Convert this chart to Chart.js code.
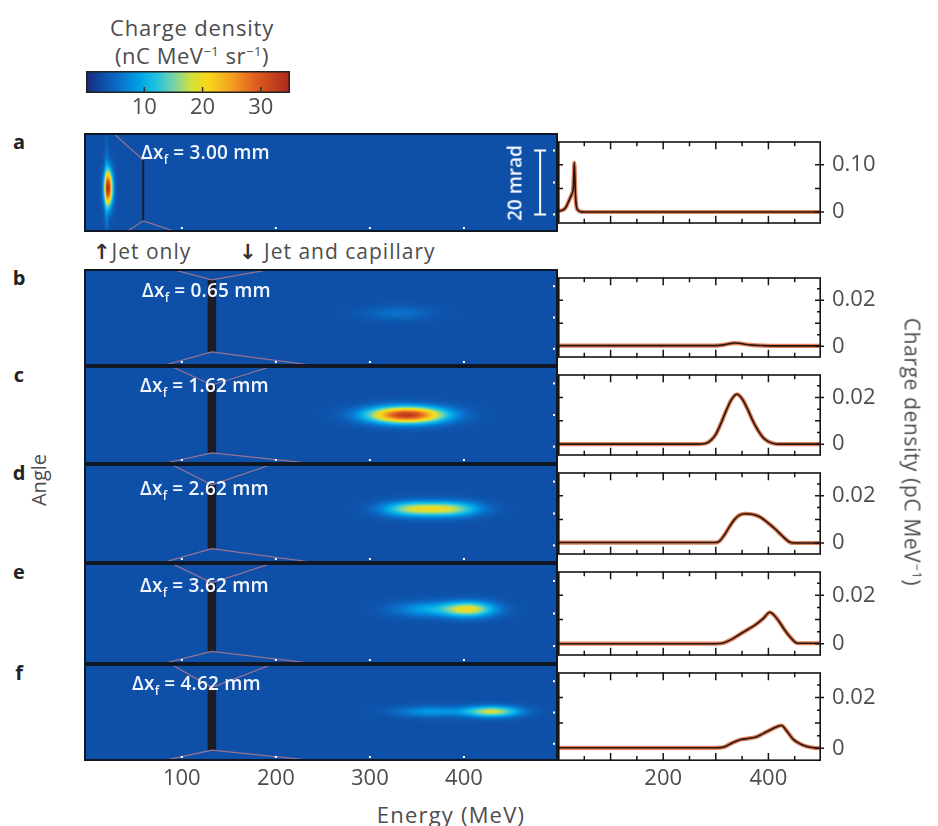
<!DOCTYPE html>
<html>
<head>
<meta charset="utf-8">
<script src="https://cdn.jsdelivr.net/npm/chart.js@4.4.1/dist/chart.umd.min.js"></script>
<style>
html,body{margin:0;padding:0;background:#fff;}
#fig{position:relative;width:938px;height:826px;overflow:hidden;font-family:"Open Sans",sans-serif;color:#4d4d4d;}
#fig canvas{position:absolute;}
.c{position:absolute;white-space:nowrap;line-height:1;transform:translate(-50%,-50%);z-index:5;}
.l{position:absolute;white-space:nowrap;line-height:1;transform:translateY(-50%);z-index:5;}
.dx{color:#f2f6ff;font-weight:600;font-size:19px;letter-spacing:0.2px;}
.dx sub{font-size:12px;vertical-align:-5px;line-height:0;}
sup{font-size:13px;vertical-align:8px;line-height:0;}
.arr{font-family:"DejaVu Sans",sans-serif;font-weight:700;color:#333;}
</style>
</head>
<body>
<div id="fig"></div>
<script>
// ---------------- DATA ----------------
const panelLetters = ['a','b','c','d','e','f'];
const dxValues = ['3.00','0.65','1.62','2.62','3.62','4.62'];

// colour bar ticks (nC MeV^-1 sr^-1)
const colorbarTicks = [10, 20, 30];
// heat-map tick positions
const energyTicks = [100, 200, 300, 400];      // MeV
const angleTicks = [-10, 0, 10];               // mrad
// spectrum tick positions
const spectrumLabelTicks = [200, 400];
const spectrumMinorTicks = [50,100,150,200,250,300,350,400,450];
const chargeTicksA = [0, 0.05, 0.10];
const chargeTicks = [0, 0.005, 0.01, 0.015, 0.02, 0.025];
const chargeLabelsA = [0, 0.10];
const chargeLabels = [0, 0.02];

// electron spots on the screen (per panel): centre energy (MeV), angle (mrad), widths, peak density
const spotEnergy = [[22, 20], [330], [339], [345, 385], [360, 405], [365, 430]];
const spotAngle  = [[-1.7, -3], [1.4], [0], [1.4, 1.4], [1.3, 1.3], [0.3, 0.3]];
const spotSigmaE = [[3.2, 1.6], [25], [28], [22, 22], [25, 19], [26, 20]];
const spotSigmaA = [[3.8, 10], [1.5], [1.8], [1.6, 1.6], [1.6, 1.6], [1.2, 1.2]];
const spotPeak   = [[29, 4], [2.8], [30], [13, 13], [6, 16], [5.5, 15]];
const backgroundDensity = 3;

// capillary shadow and outline (energy MeV, angle mrad)
const shadowEnergy = [59, 132, 132, 132, 132, 132];
const shadowWidth  = [2, 9, 9, 9, 9, 9];
const shadowTop    = [7, 12, 9.5, 9, 9.4, 8];
const shadowBottom = [-12, -11, -12, -11, -11.6, -12];
const outlineTopE = [[27, 59], [88, 132, 197], [88, 132, 197], [88, 132, 197], [88, 132, 197], [88, 132, 197]];
const outlineTopA = [[15.5, 7], [15.5, 12, 15.5], [15.5, 9.5, 15.5], [15.5, 9, 15.5], [15.5, 9.4, 15.5], [15.5, 8, 15.5]];
const outlineBotE = [[41, 59, 95], [78, 132, 245], [78, 132, 245], [78, 132, 245], [78, 132, 245], [78, 132, 245]];
const outlineBotA = [[-15.5, -12, -15.5], [-15.5, -11, -15.5], [-15.5, -12, -15.5], [-15.5, -11, -15.5], [-15.5, -11.6, -15.5], [-15.5, -12, -15.5]];
const scaleBarEnergy = 481;
const scaleBarAngles = [-10, 10];

// integrated spectra (energy MeV -> charge density pC/MeV)
const specE_a = [0, 6, 12, 16, 20, 24, 27, 29, 30, 31, 32, 33, 35, 38, 42, 50, 100, 200, 300, 400, 500];
const specQ_a = [0.002, 0.003, 0.006, 0.012, 0.022, 0.032, 0.04, 0.05, 0.075, 0.104, 0.08, 0.04, 0.012, 0.004, 0.001, 0, 0, 0, 0, 0, 0];
const specE_b = [0, 50, 100, 150, 200, 250, 280, 300, 315, 325, 335, 345, 355, 370, 390, 420, 460, 500];
const specQ_b = [0.0003, 0.0003, 0.0003, 0.0003, 0.0003, 0.0003, 0.0003, 0.0003, 0.0006, 0.0011, 0.0014, 0.0013, 0.0009, 0.0005, 0.0003, 0.0002, 0.0002, 0.0002];
const specE_c = [0, 100, 200, 260, 280, 290, 300, 310, 320, 330, 340, 350, 360, 370, 380, 390, 400, 410, 420, 450, 500];
const specQ_c = [0, 0, 0, 0, 0.0003, 0.0015, 0.0042, 0.009, 0.0145, 0.0192, 0.0214, 0.0195, 0.0152, 0.0102, 0.006, 0.0028, 0.0011, 0.0003, 0, 0, 0];
const specE_d = [0, 100, 200, 300, 307, 315, 325, 335, 345, 355, 365, 375, 385, 395, 405, 415, 425, 435, 441, 450, 500];
const specQ_d = [0.0002, 0.0002, 0.0002, 0.0002, 0.0008, 0.003, 0.0065, 0.0098, 0.0118, 0.0124, 0.0123, 0.0119, 0.0109, 0.0093, 0.0075, 0.0055, 0.0033, 0.0012, 0.0003, 0, 0];
const specE_e = [0, 100, 200, 300, 314, 330, 345, 360, 375, 390, 403, 410, 420, 430, 440, 450, 455, 500];
const specQ_e = [0, 0, 0, 0, 0.0003, 0.0018, 0.0038, 0.0058, 0.0078, 0.0104, 0.013, 0.012, 0.0093, 0.006, 0.0031, 0.0008, 0.0002, 0.0002];
const specE_f = [0, 100, 200, 300, 314, 330, 346, 362, 378, 390, 403, 414, 425, 435, 447, 460, 473, 490, 500];
const specQ_f = [0.0002, 0.0002, 0.0002, 0.0002, 0.0004, 0.002, 0.0034, 0.0039, 0.0046, 0.0058, 0.0072, 0.0083, 0.009, 0.0068, 0.0036, 0.0018, 0.0007, 0.0001, 0];
const spectraE = [specE_a, specE_b, specE_c, specE_d, specE_e, specE_f];
const spectraQ = [specQ_a, specQ_b, specQ_c, specQ_d, specQ_e, specQ_f];

// ---------------- LAYOUT / STYLE ----------------
const L = {
  heatLeft: 84, heatWidth: 474, specLeft: 558, specCanvasW: 380, specAreaW: 263,
  rowTop: [133, 269, 366, 464, 563, 664], rowBottom: [232, 366, 464, 563, 664, 761],
  pad: 16, axisH: 34
};
const colorStops = [[0,[25,40,125]],[3,[14,80,168]],[6,[10,115,205]],[9,[0,160,230]],[12,[30,195,225]],
  [15,[120,210,170]],[18,[210,225,60]],[21,[250,215,25]],[25,[245,160,35]],[29,[225,95,30]],[35,[170,40,30]]];
function cmap(v){
  if (v <= colorStops[0][0]) return colorStops[0][1];
  for (let i = 1; i < colorStops.length; i++){
    if (v <= colorStops[i][0]){
      const [v0,c0] = colorStops[i-1], [v1,c1] = colorStops[i];
      const t = (v - v0) / (v1 - v0);
      return [c0[0]+(c1[0]-c0[0])*t, c0[1]+(c1[1]-c0[1])*t, c0[2]+(c1[2]-c0[2])*t];
    }
  }
  return colorStops[colorStops.length-1][1];
}

Chart.defaults.font.family = '"Open Sans", sans-serif';
Chart.defaults.color = '#4d4d4d';
const fig = document.getElementById('fig');
function makeCanvas(left, top, w, h){
  const cv = document.createElement('canvas');
  cv.width = w; cv.height = h;
  cv.style.left = left + 'px'; cv.style.top = top + 'px';
  cv.style.width = w + 'px'; cv.style.height = h + 'px';
  fig.appendChild(cv);
  return cv.getContext('2d');
}
function addText(html, cls, x, y, extra){
  const d = document.createElement('div');
  d.className = cls; d.innerHTML = html;
  d.style.left = x + 'px'; d.style.top = y + 'px';
  if (extra) d.style.cssText += extra;
  fig.appendChild(d);
}
const baseOpts = {
  responsive: false, maintainAspectRatio: false, animation: false, events: [], devicePixelRatio: 1,
  plugins: { legend: { display: false }, tooltip: { enabled: false } }
};
function fixedHeight(h){ return s => { if (s.options.display) s.height = h; }; }

// ---------------- COLOUR BAR ----------------
const colorbarPlugin = {
  id: 'colorbar',
  beforeDatasetsDraw(chart){
    const {ctx, chartArea: ca, scales: {x}} = chart;
    for (let px = Math.floor(ca.left); px < ca.right; px++){
      const c = cmap(x.getValueForPixel(px + 0.5));
      ctx.fillStyle = `rgb(${c[0]|0},${c[1]|0},${c[2]|0})`;
      ctx.fillRect(px, ca.top, 1, ca.bottom - ca.top);
    }
    ctx.strokeStyle = '#222'; ctx.lineWidth = 1.5;
    ctx.strokeRect(ca.left + 0.75, ca.top + 0.75, ca.right - ca.left - 1.5, ca.bottom - ca.top - 1.5);
    ctx.strokeStyle = '#333'; ctx.lineWidth = 1.5;
    colorbarTicks.forEach(v => {
      const px = x.getPixelForValue(v);
      ctx.beginPath(); ctx.moveTo(px, ca.bottom - 6); ctx.lineTo(px, ca.bottom); ctx.stroke();
    });
  }
};
new Chart(makeCanvas(86, 71, 204, 22 + 30), {
  type: 'scatter', data: { datasets: [] }, plugins: [colorbarPlugin],
  options: Object.assign({}, baseOpts, {
    layout: { padding: 0 },
    scales: {
      x: { type: 'linear', min: 0, max: 35, position: 'bottom',
           afterBuildTicks: s => { s.ticks = colorbarTicks.map(v => ({ value: v })); },
           afterFit: fixedHeight(30),
           grid: { display: false, drawTicks: false }, border: { display: false },
           ticks: { padding: 2, font: { size: 22 }, color: '#4d4d4d' } },
      y: { display: false, min: 0, max: 1 }
    }
  })
});

// ---------------- HEAT MAPS ----------------
const heatPlugin = {
  id: 'heat',
  beforeDatasetsDraw(chart){
    const r = chart.options.plugins.heat.row;
    const {ctx, chartArea: ca, scales: {x, y}} = chart;
    const w = Math.round(ca.right - ca.left), h = Math.round(ca.bottom - ca.top);
    const off = document.createElement('canvas'); off.width = w; off.height = h;
    const octx = off.getContext('2d'); const img = octx.createImageData(w, h);
    for (let j = 0; j < h; j++){
      const A = y.getValueForPixel(ca.top + j + 0.5);
      for (let i = 0; i < w; i++){
        const E = x.getValueForPixel(ca.left + i + 0.5);
        let v = backgroundDensity;
        for (let k = 0; k < spotEnergy[r].length; k++){
          const dE = (E - spotEnergy[r][k]) / spotSigmaE[r][k];
          const dA = (A - spotAngle[r][k]) / spotSigmaA[r][k];
          v += spotPeak[r][k] * Math.exp(-0.5 * (dE*dE + dA*dA));
        }
        const c = cmap(v), p = (j*w + i) * 4;
        img.data[p] = c[0]; img.data[p+1] = c[1]; img.data[p+2] = c[2]; img.data[p+3] = 255;
      }
    }
    octx.putImageData(img, 0, 0);
    ctx.drawImage(off, ca.left, ca.top);
    // capillary shadow
    const x0 = x.getPixelForValue(shadowEnergy[r] - shadowWidth[r]/2);
    const x1 = x.getPixelForValue(shadowEnergy[r] + shadowWidth[r]/2);
    const y0 = y.getPixelForValue(shadowTop[r]), y1 = y.getPixelForValue(shadowBottom[r]);
    ctx.fillStyle = '#1c1c24';
    ctx.fillRect(x0, y0, x1 - x0, y1 - y0);
  },
  afterDraw(chart){
    const r = chart.options.plugins.heat.row;
    const {ctx, chartArea: ca, scales: {x, y}} = chart;
    ctx.save();
    ctx.fillStyle = '#ffffff';
    energyTicks.forEach(v => { const px = x.getPixelForValue(v); ctx.fillRect(px - 1, ca.bottom - 5, 2, 2); });
    angleTicks.forEach(v => { const py = y.getPixelForValue(v); ctx.fillRect(ca.right - 5, py - 1, 2, 2); });
    if (r === 0){
      const bx = x.getPixelForValue(scaleBarEnergy);
      const b0 = y.getPixelForValue(scaleBarAngles[1]), b1 = y.getPixelForValue(scaleBarAngles[0]);
      ctx.strokeStyle = '#ffffff'; ctx.lineWidth = 2;
      ctx.beginPath();
      ctx.moveTo(bx, b0); ctx.lineTo(bx, b1);
      ctx.moveTo(bx - 6, b0); ctx.lineTo(bx + 6, b0);
      ctx.moveTo(bx - 6, b1); ctx.lineTo(bx + 6, b1);
      ctx.stroke();
    }
    ctx.strokeStyle = '#101826'; ctx.lineWidth = 2;
    ctx.strokeRect(ca.left + 1, ca.top + 1, ca.right - ca.left - 2, ca.bottom - ca.top - 2);
    ctx.restore();
  }
};
for (let r = 0; r < 6; r++){
  const last = r === 5;
  const rowH = L.rowBottom[r] - L.rowTop[r];
  const ctx = makeCanvas(L.heatLeft, L.rowTop[r], L.heatWidth, rowH + (last ? L.axisH : 0));
  const toPts = (E, A) => E.map((e, i) => ({ x: e, y: A[i] }));
  const lineStyle = { showLine: true, pointRadius: 0, borderColor: 'rgba(190,125,140,0.8)', borderWidth: 1.2, fill: false };
  new Chart(ctx, {
    type: 'scatter',
    data: { datasets: [
      Object.assign({ data: toPts(outlineTopE[r], outlineTopA[r]) }, lineStyle),
      Object.assign({ data: toPts(outlineBotE[r], outlineBotA[r]) }, lineStyle)
    ] },
    plugins: [heatPlugin],
    options: Object.assign({}, baseOpts, {
      layout: { padding: 0 },
      plugins: { legend: { display: false }, tooltip: { enabled: false }, heat: { row: r } },
      scales: {
        x: { type: 'linear', min: -4, max: 500, display: last, position: 'bottom',
             afterBuildTicks: s => { s.ticks = energyTicks.map(v => ({ value: v })); },
             afterFit: fixedHeight(L.axisH),
             grid: { display: false, drawTicks: false }, border: { display: false },
             ticks: { padding: 5, font: { size: 22 }, color: '#4d4d4d' } },
        y: { type: 'linear', min: -15.5, max: 15.5, display: false }
      }
    })
  });
}

// ---------------- SPECTRA ----------------
const specPlugin = {
  id: 'spec',
  afterDraw(chart){
    const r = chart.options.plugins.spec.row;
    const {ctx, chartArea: ca, scales: {x, y}} = chart;
    ctx.save();
    ctx.strokeStyle = '#151515'; ctx.lineWidth = 1.6;
    ctx.strokeRect(ca.left + 0.8, ca.top + 0.8, ca.right - ca.left - 1.6, ca.bottom - ca.top - 1.6);
    ctx.lineWidth = 1.5;
    ctx.beginPath();
    spectrumMinorTicks.forEach(v => {
      const px = x.getPixelForValue(v), len = (v % 100 === 0) ? 8 : 5;
      ctx.moveTo(px, ca.bottom); ctx.lineTo(px, ca.bottom - len);
      ctx.moveTo(px, ca.top); ctx.lineTo(px, ca.top + len);
    });
    const yt = r === 0 ? chargeTicksA : chargeTicks;
    const major = r === 0 ? 0.05 : 0.01;
    const labs = r === 0 ? chargeLabelsA : chargeLabels;
    yt.forEach(v => {
      const py = y.getPixelForValue(v);
      const isMajor = Math.abs(v / major - Math.round(v / major)) < 1e-6;
      const len = isMajor ? 6 : 4;
      const out = labs.some(l => Math.abs(l - v) < 1e-9) ? 3 : 0;
      ctx.moveTo(ca.right + out, py); ctx.lineTo(ca.right - len, py);
      if (isMajor && v !== 0){ ctx.moveTo(ca.left, py); ctx.lineTo(ca.left + 5, py); }
    });
    ctx.stroke();
    ctx.restore();
  }
};
for (let r = 0; r < 6; r++){
  const last = r === 5;
  const rowH = L.rowBottom[r] - L.rowTop[r];
  const ctx = makeCanvas(L.specLeft, L.rowTop[r] - L.pad, L.specCanvasW, rowH + 2*L.pad + (last ? L.axisH : 0));
  const pts = spectraE[r].map((e, i) => ({ x: e, y: spectraQ[r][i] }));
  const labs = r === 0 ? chargeLabelsA : chargeLabels;
  new Chart(ctx, {
    type: 'line',
    data: { datasets: [
      // mean spectrum (drawn on top)
      { data: pts, borderColor: '#2b130a', borderWidth: 1.6, pointRadius: 0, tension: 0.25, cubicInterpolationMode: 'monotone', fill: false, order: 0 },
      // shot-to-shot spread band
      { data: pts, borderColor: 'rgba(212,100,55,0.8)', borderWidth: 4.2, pointRadius: 0, tension: 0.25, cubicInterpolationMode: 'monotone', fill: false, order: 1 }
    ] },
    plugins: [specPlugin],
    options: Object.assign({}, baseOpts, {
      layout: { padding: { top: L.pad, bottom: L.pad, left: 0, right: 0 } },
      plugins: { legend: { display: false }, tooltip: { enabled: false }, spec: { row: r } },
      scales: {
        x: { type: 'linear', min: 0, max: 500, display: last, position: 'bottom',
             afterBuildTicks: s => { s.ticks = spectrumLabelTicks.map(v => ({ value: v })); },
             afterFit: fixedHeight(L.axisH),
             grid: { display: false, drawTicks: false }, border: { display: false },
             ticks: { padding: 5, font: { size: 22 }, color: '#4d4d4d' } },
        y: { type: 'linear', position: 'right',
             min: r === 0 ? -0.025 : -0.005, max: r === 0 ? 0.15 : 0.03,
             afterBuildTicks: s => { s.ticks = labs.map(v => ({ value: v })); },
             afterFit: s => { s.width = L.specCanvasW - L.specAreaW; },
             grid: { display: false, drawTicks: false }, border: { display: false },
             ticks: { padding: 11, font: { size: 22 }, color: '#4d4d4d',
                      callback: v => v === 0 ? '0' : v.toFixed(2) } }
      }
    })
  });
}

// ---------------- TEXT ----------------
addText('Charge density', 'c', 192, 27, 'font-size:22px;letter-spacing:0.8px;');
addText('(nC MeV<sup>−1</sup> sr<sup>−1</sup>)', 'c', 192, 55, 'font-size:22px;letter-spacing:0.5px;');
panelLetters.forEach((p, r) => addText(p, 'c', 19, L.rowTop[r] + 9, 'font-size:20px;font-weight:700;color:#222;'));
const dxPos = [[141, 152], [142, 290], [140, 385], [140, 488], [140, 585], [132, 683]];
dxValues.forEach((v, r) => addText('Δx<sub>f</sub> = ' + v + ' mm', 'l dx', dxPos[r][0], dxPos[r][1]));
addText('20 mrad', 'c', 515, 183, 'font-size:19px;font-weight:600;color:#f2f6ff;transform:translate(-50%,-50%) rotate(-90deg);');
addText('<span class="arr">↑</span>Jet only', 'l', 93, 252, 'font-size:21px;letter-spacing:1px;');
addText('<span class="arr">↓</span> Jet and capillary', 'l', 239, 252, 'font-size:21px;letter-spacing:1px;');
addText('Angle', 'c', 39, 480, 'font-size:20px;transform:translate(-50%,-50%) rotate(-90deg);');
addText('Charge density (pC MeV<sup>−1</sup>)', 'c', 912, 452, 'font-size:21px;letter-spacing:0.6px;transform:translate(-50%,-50%) rotate(90deg);');
addText('Energy (MeV)', 'c', 451, 814, 'font-size:22px;letter-spacing:1.2px;');
</script>
</body>
</html>
